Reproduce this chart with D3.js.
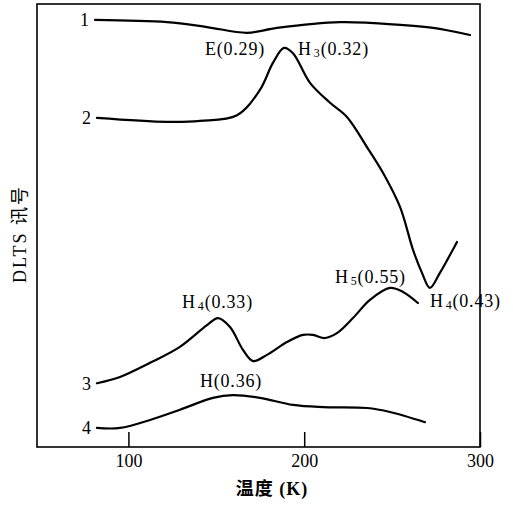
<!DOCTYPE html>
<html>
<head>
<meta charset="utf-8">
<script src="https://cdn.jsdelivr.net/npm/d3@7"></script>
<style>
  body { margin: 0; background: #fff; }
  text { font-family: "Liberation Serif", "Noto Sans CJK SC", serif; fill: #000; }
</style>
</head>
<body>
<div id="chart" style="width:513px;height:505px;"></div>
<script>
// data: [temperature K, DLTS signal (arb. units, 0-100)]
var curve1 = [[81,96.4],[121.9,95.9],[144.7,94.8],[167.5,93.5],[184.5,94.6],[220.4,95.9],[254.5,95.3],[273.3,94.6],[294.3,93.0]];
var curve2 = [[82.1,74.3],[121.9,73.4],[140.7,73.6],[161.8,74.9],[174.8,80.6],[182.2,86.7],[188.5,90.1],[193.6,88.9],[203.3,82.2],[214.7,77.7],[224.3,74.5],[235.7,67.7],[244.8,61.9],[254.5,54.2],[261.9,44.5],[267,39.3],[271.5,35.9],[277.2,39.3],[286.9,46.3]];
var curve3 = [[82.1,14.4],[95.2,15.8],[112.3,19.0],[129.3,22.6],[144.7,27.5],[151,29.1],[157.8,27.1],[165.2,21.9],[170.9,19.4],[178.8,20.8],[190.2,23.7],[199.3,25.3],[205,25.3],[211.8,24.6],[218.6,25.7],[227.7,29.1],[237.4,33.2],[248.8,35.9],[256.2,35.0],[264.7,32.5]];
var curve4 = [[82.1,4.3],[95.2,4.3],[112.3,6.1],[129.3,8.4],[148.1,11.1],[159.5,11.7],[174.8,11.1],[193.6,9.5],[210.7,9.0],[235.7,8.8],[248.8,7.9],[268.7,5.6]];
var curveNames = ["1", "2", "3", "4"];

// peak labels: [text, subscript, rest, T, signal, anchor]
var peakLabels = [
  ["E", "", "(0.29)", 177.7, 88.5, "end"],
  ["H", "3", "(0.32)", 196.5, 88.5, "start"],
  ["H", "4", "(0.33)", 130.5, 31.4, "start"],
  ["H", "5", "(0.55)", 217.5, 37.0, "start"],
  ["H", "4", "(0.43)", 271.5, 31.6, "start"],
  ["H", "", "(0.36)", 140.7, 13.5, "start"]
];
var xTicks = [100, 200, 300];

var margin = {top: 4, right: 33, bottom: 58, left: 37},
    width = 513 - margin.left - margin.right,
    height = 505 - margin.top - margin.bottom;

var svg = d3.select("#chart").append("svg")
    .attr("width", 513)
    .attr("height", 505)
  .append("g")
    .attr("transform", "translate(" + margin.left + "," + margin.top + ")");

var x = d3.scaleLinear().domain([48, 300]).range([0, width]);
var y = d3.scaleLinear().domain([0, 100]).range([height, 0]);

// frame
svg.append("rect")
    .attr("x", 0).attr("y", 0)
    .attr("width", width).attr("height", height)
    .style("fill", "none")
    .style("stroke", "#000")
    .style("stroke-width", 1.6);

var xAxis = svg.append("g")
    .attr("transform", "translate(0," + height + ")")
    .call(d3.axisBottom(x).tickValues(xTicks).tickSize(-15).tickPadding(7));
xAxis.select(".domain").remove();
xAxis.selectAll("line").style("stroke", "#000").style("stroke-width", 1.5);
xAxis.selectAll("text")
    .style("font-family", "Liberation Serif")
    .style("font-size", "18px");

var line = d3.line()
    .x(function(d) { return x(d[0]); })
    .y(function(d) { return y(d[1]); })
    .curve(d3.curveCatmullRom.alpha(0.5));

var curves = [curve1, curve2, curve3, curve4];
curves.forEach(function(c, i) {
    svg.append("path")
        .datum(c)
        .attr("d", line)
        .style("fill", "none")
        .style("stroke", "#000")
        .style("stroke-width", 2.2)
        .style("stroke-linecap", "round");
    svg.append("text")
        .attr("x", x(c[0][0]) - 6)
        .attr("y", y(c[0][1]))
        .attr("dy", "0.35em")
        .style("text-anchor", "end")
        .style("font-size", "18px")
        .text(curveNames[i]);
});

peakLabels.forEach(function(p) {
    var t = svg.append("text")
        .attr("x", x(p[3]))
        .attr("y", y(p[4]))
        .style("text-anchor", p[5])
        .style("font-size", "18px")
        .style("letter-spacing", "0.8px");
    t.append("tspan").text(p[0]);
    if (p[1]) {
        t.append("tspan").attr("dx", 2).attr("dy", 2).style("font-size", "12px").text(p[1]);
        t.append("tspan").attr("dy", -2).text(p[2]);
    } else {
        t.append("tspan").text(p[2]);
    }
});

// axis titles
svg.append("text")
    .attr("x", 272 - margin.left)
    .attr("y", 495 - margin.top)
    .style("text-anchor", "middle")
    .style("font-size", "18px")
    .style("font-weight", "bold")
    .style("letter-spacing", "1px")
    .text("温度 (K)");

svg.append("text")
    .attr("transform", "translate(" + (26 - margin.left) + "," + (234 - margin.top) + ") rotate(-90)")
    .style("text-anchor", "middle")
    .style("font-size", "18px")
    .style("letter-spacing", "2px")
    .text("DLTS 讯号");
</script>
</body>
</html>
